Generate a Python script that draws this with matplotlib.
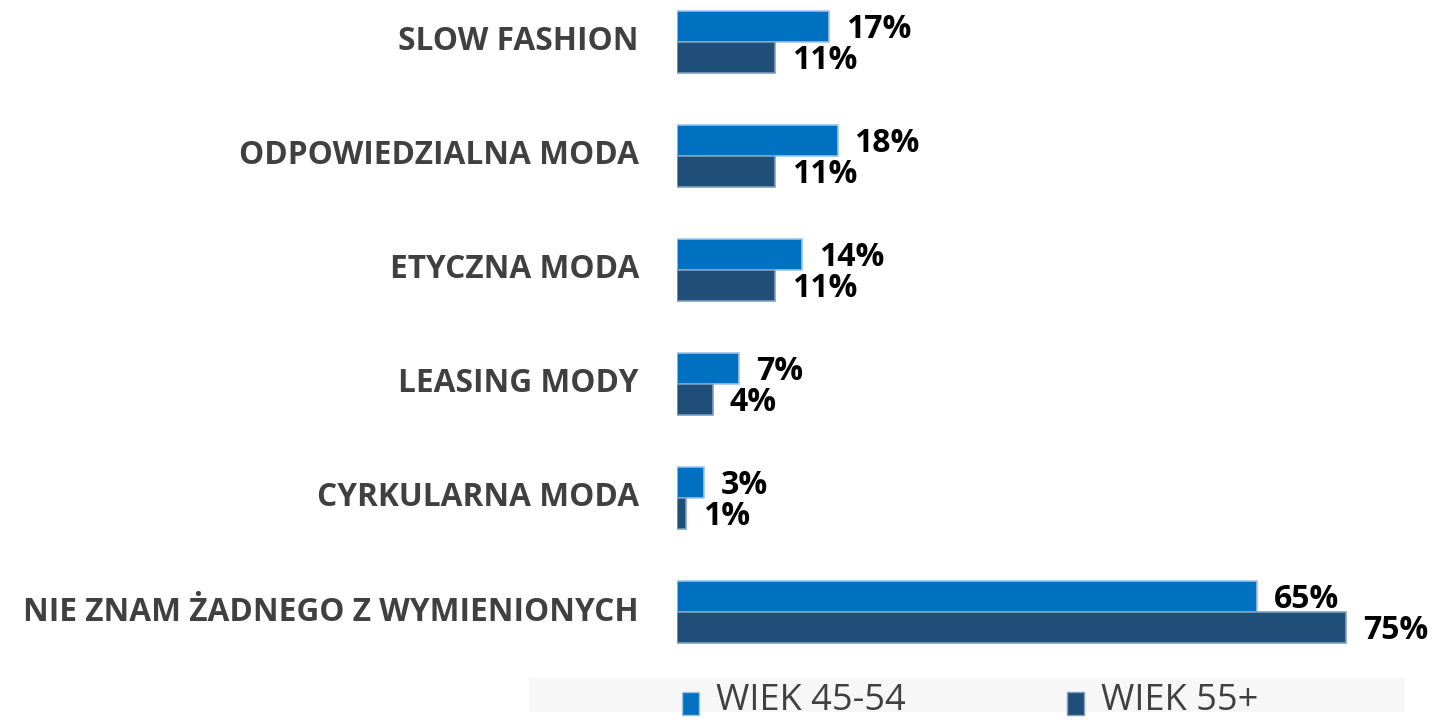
import matplotlib.pyplot as plt
from matplotlib.patches import Rectangle
import numpy as np

categories = ["SLOW FASHION", "ODPOWIEDZIALNA MODA", "ETYCZNA MODA",
              "LEASING MODY", "CYRKULARNA MODA", "NIE ZNAM ŻADNEGO Z WYMIENIONYCH"]
series_names = ["WIEK 45-54", "WIEK 55+"]
wiek_45_54 = [17, 18, 14, 7, 3, 65]
wiek_55 = [11, 11, 11, 4, 1, 75]

colors = ["#0070C0", "#1F4E79"]
edges = ["#9DC3E6", "#7F9FBF"]

W, H = 1433, 720
fig = plt.figure(figsize=(W / 100, H / 100), dpi=100)

# axes placed in pixel terms: bars start at x=677, 1% ~ 8.92 px
x0 = 677
xmax = 84
ax = fig.add_axes([x0 / W, 60 / H, xmax * 8.92 / W, 660 / H])
ax.set_xlim(0, xmax)
ax.set_ylim(5.421, -0.368)
ax.axis("off")

y = np.arange(len(categories))
h = 0.272
for k, vals in enumerate([wiek_45_54, wiek_55]):
    off = (k - 0.5) * h
    ax.barh(y + off, vals, height=h, color=colors[k], edgecolor=edges[k], linewidth=1.2)
    for yi, v in zip(y, vals):
        ax.annotate(f"{v}%", (v, yi + off), xytext=(17, -3), textcoords="offset pixels",
                    ha="left", va="center", fontsize=23, fontweight="bold",
                    family="Open Sans", color="black")

# category labels
for yi, c in zip(y, categories):
    ax.annotate(c, (0, yi), xytext=(-38, 0), textcoords="offset pixels",
                ha="right", va="center", fontsize=22.8, fontweight="bold",
                family="Open Sans", color="#404040")

# legend band
fig.patches.append(Rectangle((529 / W, 1 - 712 / H), (1405 - 529) / W, 34 / H,
                             transform=fig.transFigure, facecolor="#F7F7F7",
                             edgecolor="none", zorder=0))
leg_x = [682, 1067]
for k, name in enumerate(series_names):
    fig.patches.append(Rectangle((leg_x[k] / W, 1 - 715 / H), 17 / W, 23 / H,
                                 transform=fig.transFigure, facecolor=colors[k],
                                 edgecolor=edges[k], linewidth=1, zorder=2))
    fig.text((leg_x[k] + 34) / W, 1 - 701 / H, name, ha="left", va="center",
             fontsize=26, family="Open Sans", color="#404040")

fig.savefig("out.png", dpi=100)
